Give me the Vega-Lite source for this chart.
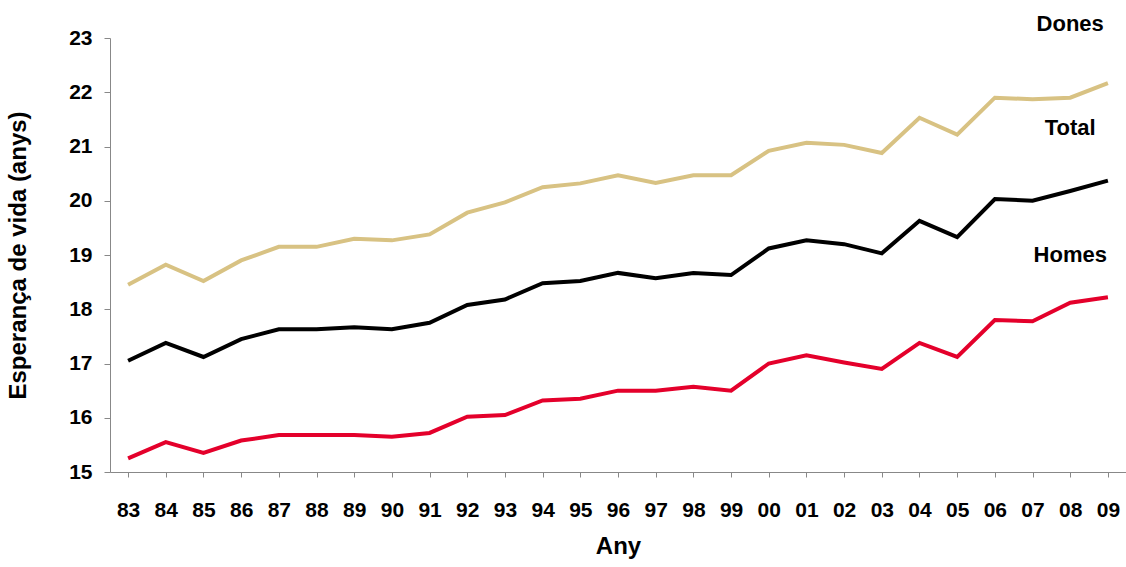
{
  "$schema": "https://vega.github.io/schema/vega-lite/v6.json",
  "width": 1016,
  "height": 434,
  "autosize": "none",
  "padding": {"left": 110, "top": 38, "right": 0, "bottom": 95},
  "config": {"font": "Liberation Sans", "view": {"stroke": null}},
  "datasets": {
    "d": [
      {"any":"83","s":"Dones","v":18.45},{"any":"84","s":"Dones","v":18.82},{"any":"85","s":"Dones","v":18.52},{"any":"86","s":"Dones","v":18.9},{"any":"87","s":"Dones","v":19.15},{"any":"88","s":"Dones","v":19.15},{"any":"89","s":"Dones","v":19.3},{"any":"90","s":"Dones","v":19.27},{"any":"91","s":"Dones","v":19.38},{"any":"92","s":"Dones","v":19.78},{"any":"93","s":"Dones","v":19.97},{"any":"94","s":"Dones","v":20.25},{"any":"95","s":"Dones","v":20.32},{"any":"96","s":"Dones","v":20.47},{"any":"97","s":"Dones","v":20.33},{"any":"98","s":"Dones","v":20.47},{"any":"99","s":"Dones","v":20.47},{"any":"00","s":"Dones","v":20.92},{"any":"01","s":"Dones","v":21.07},{"any":"02","s":"Dones","v":21.03},{"any":"03","s":"Dones","v":20.88},{"any":"04","s":"Dones","v":21.53},{"any":"05","s":"Dones","v":21.22},{"any":"06","s":"Dones","v":21.9},{"any":"07","s":"Dones","v":21.87},{"any":"08","s":"Dones","v":21.9},{"any":"09","s":"Dones","v":22.17},
      {"any":"83","s":"Total","v":17.05},{"any":"84","s":"Total","v":17.38},{"any":"85","s":"Total","v":17.12},{"any":"86","s":"Total","v":17.45},{"any":"87","s":"Total","v":17.63},{"any":"88","s":"Total","v":17.63},{"any":"89","s":"Total","v":17.67},{"any":"90","s":"Total","v":17.63},{"any":"91","s":"Total","v":17.75},{"any":"92","s":"Total","v":18.08},{"any":"93","s":"Total","v":18.18},{"any":"94","s":"Total","v":18.48},{"any":"95","s":"Total","v":18.52},{"any":"96","s":"Total","v":18.67},{"any":"97","s":"Total","v":18.57},{"any":"98","s":"Total","v":18.67},{"any":"99","s":"Total","v":18.63},{"any":"00","s":"Total","v":19.12},{"any":"01","s":"Total","v":19.27},{"any":"02","s":"Total","v":19.2},{"any":"03","s":"Total","v":19.03},{"any":"04","s":"Total","v":19.63},{"any":"05","s":"Total","v":19.33},{"any":"06","s":"Total","v":20.03},{"any":"07","s":"Total","v":20.0},{"any":"08","s":"Total","v":20.18},{"any":"09","s":"Total","v":20.37},
      {"any":"83","s":"Homes","v":15.25},{"any":"84","s":"Homes","v":15.55},{"any":"85","s":"Homes","v":15.35},{"any":"86","s":"Homes","v":15.58},{"any":"87","s":"Homes","v":15.68},{"any":"88","s":"Homes","v":15.68},{"any":"89","s":"Homes","v":15.68},{"any":"90","s":"Homes","v":15.65},{"any":"91","s":"Homes","v":15.72},{"any":"92","s":"Homes","v":16.02},{"any":"93","s":"Homes","v":16.05},{"any":"94","s":"Homes","v":16.32},{"any":"95","s":"Homes","v":16.35},{"any":"96","s":"Homes","v":16.5},{"any":"97","s":"Homes","v":16.5},{"any":"98","s":"Homes","v":16.57},{"any":"99","s":"Homes","v":16.5},{"any":"00","s":"Homes","v":17.0},{"any":"01","s":"Homes","v":17.15},{"any":"02","s":"Homes","v":17.02},{"any":"03","s":"Homes","v":16.9},{"any":"04","s":"Homes","v":17.38},{"any":"05","s":"Homes","v":17.12},{"any":"06","s":"Homes","v":17.8},{"any":"07","s":"Homes","v":17.78},{"any":"08","s":"Homes","v":18.12},{"any":"09","s":"Homes","v":18.22}
    ],
    "labels": [
      {"any":"08","s":"Dones","v":23.25},
      {"any":"08","s":"Total","v":21.35},
      {"any":"08","s":"Homes","v":19.0}
    ]
  },
  "encoding": {
    "x": {"field": "any", "type": "ordinal", "sort": null,
      "scale": {"type": "point", "padding": 0.48},
      "axis": {"title": "Any", "titleFontSize": 24, "titleFontWeight": "bold", "titleColor": "black", "titlePadding": 14,
        "labelFontSize": 21, "labelFontWeight": "bold", "labelColor": "black", "labelAngle": 0, "labelPadding": 22,
        "domainColor": "#888", "tickColor": "#888", "tickSize": 5}},
    "y": {"field": "v", "type": "quantitative",
      "scale": {"domain": [15, 23]},
      "axis": {"title": "Esperança de vida (anys)", "titleFontSize": 24, "titleFontWeight": "bold", "titleColor": "black", "titlePadding": 38,
        "labelFontSize": 21, "labelFontWeight": "bold", "labelColor": "black", "labelPadding": 12,
        "grid": false, "tickCount": 8, "domainColor": "#888", "tickColor": "#888", "tickSize": 6}},
    "color": {"field": "s", "type": "nominal", "legend": null,
      "scale": {"domain": ["Dones", "Total", "Homes"], "range": ["#d8c283", "#000000", "#e4002b"]}}
  },
  "layer": [
    {"data": {"name": "d"}, "mark": {"type": "line", "strokeWidth": 4}, "encoding": {"detail": {"field": "s"}}},
    {"data": {"name": "labels"}, "mark": {"type": "text", "fontSize": 22, "fontWeight": "bold", "color": "black", "align": "center"},
      "encoding": {"text": {"field": "s"}, "color": {"value": "black"}}}
  ]
}
